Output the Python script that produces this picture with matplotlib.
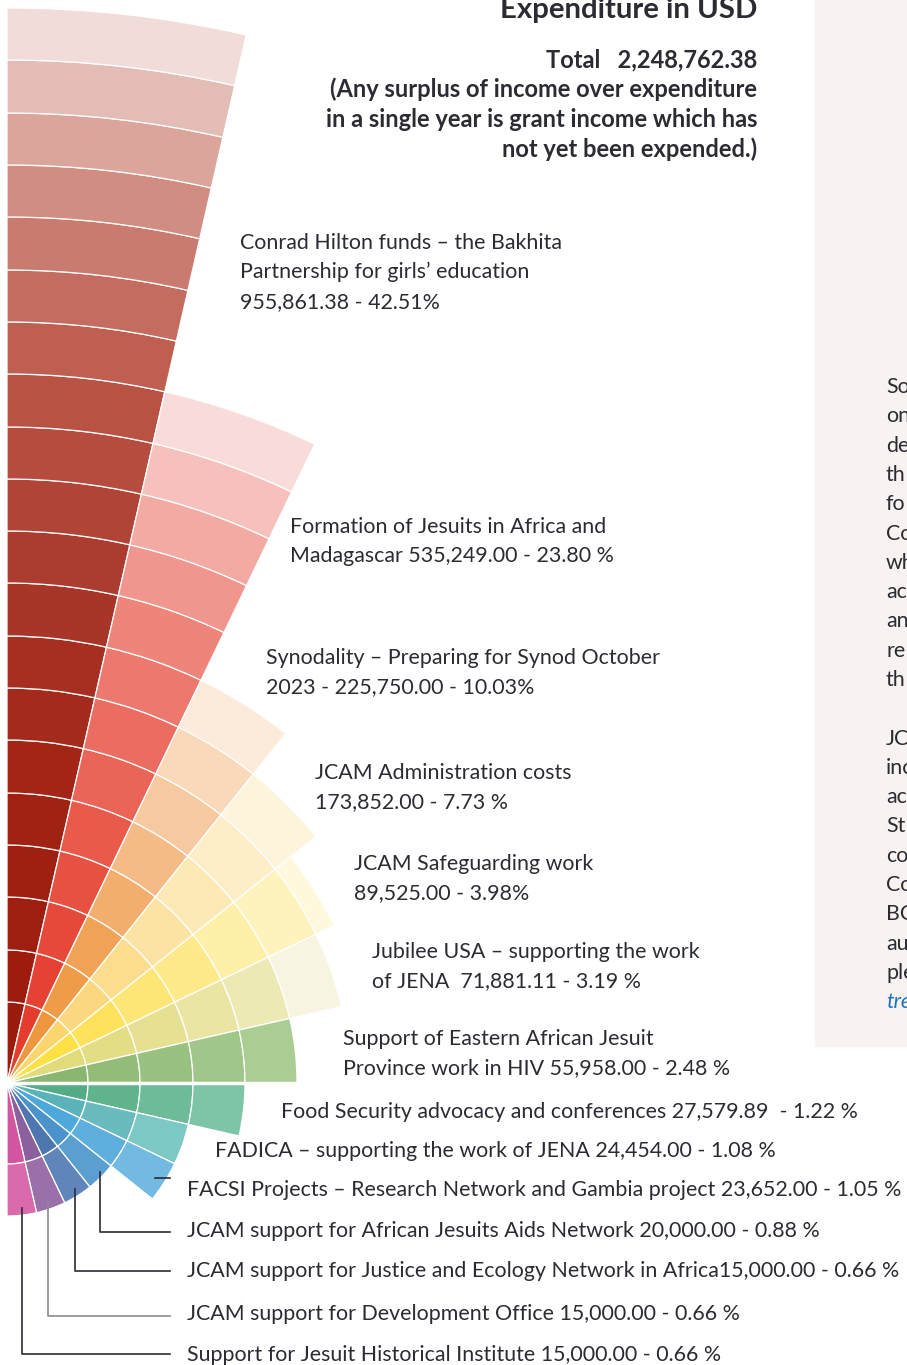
import numpy as np
import matplotlib.pyplot as plt
from matplotlib.patches import Rectangle

plt.rcParams['font.family'] = ['Lato', 'DejaVu Sans']

W, H = 907, 1365

# categories (clockwise from the top), label lines as printed
labels = [
    ["Conrad Hilton funds \u2013 the Bakhita", "Partnership for girls\u2019 education", "955,861.38 - 42.51%"],
    ["Formation of Jesuits in Africa and", "Madagascar 535,249.00 - 23.80 %"],
    ["Synodality \u2013 Preparing for Synod October", "2023 - 225,750.00 - 10.03%"],
    ["JCAM Administration costs", "173,852.00 - 7.73 %"],
    ["JCAM Safeguarding work", "89,525.00 - 3.98%"],
    ["Jubilee USA \u2013 supporting the work", "of JENA  71,881.11 - 3.19 %"],
    ["Support of Eastern African Jesuit", "Province work in HIV 55,958.00 - 2.48 %"],
    ["Food Security advocacy and conferences 27,579.89  - 1.22 %"],
    ["FADICA \u2013 supporting the work of JENA 24,454.00 - 1.08 %"],
    ["FACSI Projects \u2013 Research Network and Gambia project 23,652.00 - 1.05 %"],
    ["JCAM support for African Jesuits Aids Network 20,000.00 - 0.88 %"],
    ["JCAM support for Justice and Ecology Network in Africa15,000.00 - 0.66 %"],
    ["JCAM support for Development Office 15,000.00 - 0.66 %"],
    ["Support for Jesuit Historical Institute 15,000.00 - 0.66 %"],
]

# ring grid of the fan and how far each wedge reaches
ring_edges = [0, 81, 133, 186, 238, 290, 343, 395, 447, 500, 552, 604,
              656, 709, 761, 813, 866, 918, 970, 1023, 1075]
outer_r = [1075, 709, 447, 395, 363, 343, 290, 238, 186, 186, 133, 133, 133, 133]

# ring colours, inner -> outer
ring_colors = [
    ['#9B1B0D', '#9D1C0E', '#9E1E10', '#9F2011', '#A02213', '#A22516', '#A42A1B',
     '#A62F21', '#A83628', '#AC3C2F', '#B04537', '#B54C3E', '#B85344', '#BE5F52',
     '#C46C60', '#CA7B6F', '#D28D83', '#DBA59C', '#E3BCB6', '#F1DCD9'],
    ['#E43D2E', '#E54233', '#E6493A', '#E75142', '#E95A4B', '#EA6457', '#EB6D61',
     '#EC786E', '#EE857B', '#F0968E', '#F3AAA3', '#F6C1BD', '#F9DCDA'],
    ['#EE973F', '#EF9C48', '#F0A356', '#F2AE6C', '#F4BB87', '#F7C9A0', '#F9D9BA', '#FCEADA'],
    ['#FBD56E', '#FBD87F', '#FCDD8E', '#FCE3A3', '#FDE9B6', '#FDEEC7', '#FEF4DB'],
    ['#FFE045', '#FEE25C', '#FEE676', '#FEEA8A', '#FEF0A8', '#FEF3BC', '#FEF8DC'],
    ['#E1DB7A', '#E3DE84', '#E6E192', '#EAE5A3', '#EDE9B4', '#F7F5E1'],
    ['#8AB76F', '#92BC78', '#99C181', '#A0C689', '#AACD94'],
    ['#53AC85', '#60B48D', '#6DBB98', '#7DC5A6'],
    ['#5AB3B9', '#6ABBBE', '#7BC8C5'],
    ['#4DA9DC', '#5EAFDD', '#72BAE2'],
    ['#4D93CB', '#5B9FD1'],
    ['#4E76AF', '#6085BB'],
    ['#8C5F9E', '#9A70AA'],
    ['#D255A0', '#D96AAB'],
]

header = ["Total   2,248,762.38",
          "(Any surplus of income over expenditure",
          "in a single year is grant income which has",
          "not yet been expended.)"]

panel_text = ["So", "on", "de", "th", "fo", "Co", "wh", "ac", "an", "re", "th", "",
              "JC", "inc", "ac", "St", "co", "Co", "BC", "au", "ple"]

ink = '#2B2B33'
fs = 15.4

fig = plt.figure(figsize=(W / 100, H / 100), dpi=100)
fig.patches.append(Rectangle((815 / W, 1 - 1046 / H), (W - 815) / W, 1046 / H,
                             transform=fig.transFigure, color='#F8F2F0', zorder=-1))

# polar fan, centre sits on the left edge
cx, cy, R = 7, 1083, 1100
ax = fig.add_axes([(cx - R) / W, (H - cy - R) / H, 2 * R / W, 2 * R / H], projection='polar')
ax.set_ylim(0, R)
ax.set_facecolor('none')
ax.axis('off')

n = len(labels)
step = np.pi / n
for i in range(n):
    theta = np.pi / 2 - (i + 0.5) * step
    edges = [e for e in ring_edges if e < outer_r[i]] + [outer_r[i]]
    for k in range(len(edges) - 1):
        ax.bar(theta, edges[k + 1] - edges[k], width=step, bottom=edges[k],
               color=ring_colors[i][k], edgecolor='white', linewidth=0.9)
# gap between upper and lower half
ax.plot([0, 0], [0, outer_r[6]], color='white', lw=2.5)

# overlay in pixel coordinates for text
ov = fig.add_axes([0, 0, 1, 1])
ov.set_xlim(0, W)
ov.set_ylim(H, 0)
ov.axis('off')

ov.text(757, 18, "Expenditure in USD", ha='right', va='baseline', fontsize=21.2,
        fontweight='bold', color=ink)
for j, line in enumerate(header):
    ov.text(757, 67 + j * 30, line, ha='right', va='baseline', fontsize=17,
            fontweight='bold', color=ink)

label_xy = [(240, 249), (290, 533), (266, 664), (315, 779), (354, 870), (372, 958),
            (343, 1045), (281, 1118), (215, 1157), (187, 1196), (187, 1237),
            (187, 1277), (187, 1320), (187, 1361)]
for lines, (x, y) in zip(labels, label_xy):
    for j, line in enumerate(lines):
        ov.text(x, y + j * 29.3, line, ha='left', va='baseline', fontsize=fs, color=ink)

# leader lines for the small wedges
ov.plot([155, 170], [1178, 1178], color=ink, lw=1.2)
leaders = [(100, 1172, 1232, ink), (75, 1189, 1271, ink),
           (48, 1202, 1316, '#8A8A8F'), (22, 1208, 1354, ink)]
for x0, y0, yb, c in leaders:
    ov.plot([x0, x0, 170], [y0, yb, yb], color=c, lw=1.2)

# side panel text, cut by the page edge
for j, t in enumerate(panel_text):
    ov.text(886, 393 + j * 29.3, t, ha='left', va='baseline', fontsize=fs, color=ink)
ov.text(886, 393 + len(panel_text) * 29.3, "tre", ha='left', va='baseline', fontsize=fs,
        style='italic', color='#1B75BC')

fig.savefig('out.png', dpi=100)
